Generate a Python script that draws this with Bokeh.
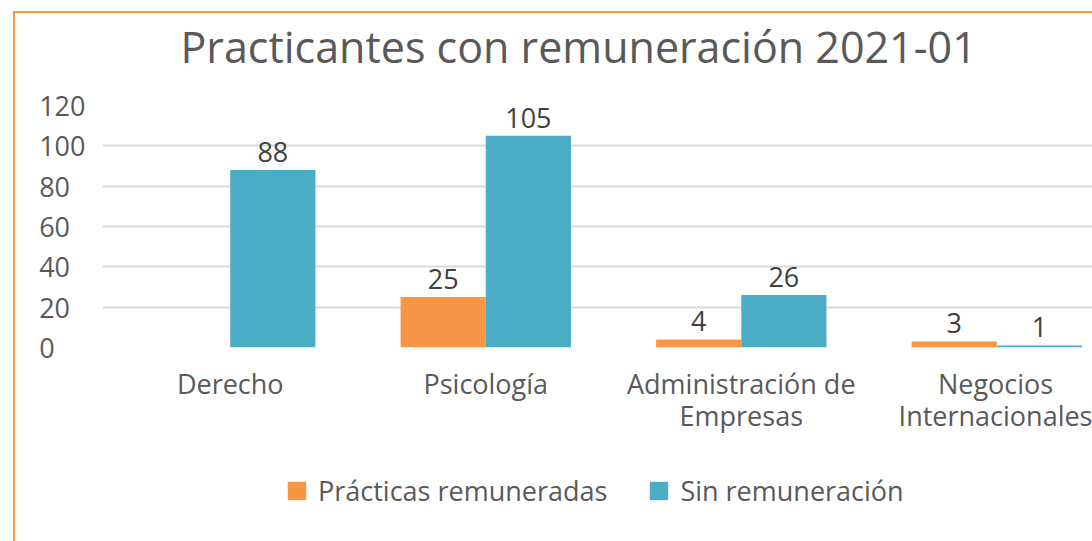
import numpy as np
from bokeh.plotting import figure
from bokeh.layouts import column
from bokeh.models import (ColumnDataSource, FixedTicker, Legend, LegendItem,
                          Range1d, LabelSet, Title)
from bokeh.core.properties import value
from bokeh.transform import dodge
from bokeh.embed import file_html
from bokeh.resources import INLINE

# ---- data ----
categories = ["Derecho", "Psicología", "Administración de\nEmpresas",
              "Negocios\nInternacionales"]
remuneradas = [0, 25, 4, 3]
sin_remuneracion = [88, 105, 26, 1]
y_ticks = [0, 20, 40, 60, 80, 100, 120]
series_names = ["Prácticas remuneradas", "Sin remuneración"]
title_text = "Practicantes con remuneración 2021-01"

ORANGE = "#F79646"
BLUE = "#4BACC6"
TXT = "#595959"
FONT = "Open Sans"
BORDER = "2px solid " + ORANGE

xc = np.arange(len(categories)) + 0.5
src = ColumnDataSource(dict(
    x=xc, rem=remuneradas, sin=sin_remuneracion,
    rem_lbl=[str(v) if v else "" for v in remuneradas],
    sin_lbl=[str(v) if v else "" for v in sin_remuneracion],
))

p = figure(frame_width=990, frame_height=240,
           x_range=Range1d(0, 990 / 255), y_range=Range1d(0, 120),
           output_backend="svg", toolbar_location=None,
           min_border_left=87, min_border_right=0,
           min_border_top=92, min_border_bottom=110)
p.margin = (11, 0, 0, 13)
p.styles = {"border-left": BORDER, "border-top": BORDER}
p.outline_line_color = None

# spacer between frame and title, then the title itself (further out)
p.add_layout(Title(text=" ", text_font_size="1px", standoff=27), "above")
p.add_layout(Title(text=title_text, text_font=FONT, text_font_size="43px",
                   text_font_style="normal", text_color=TXT, align="left",
                   vertical_align="bottom", offset=78, standoff=0), "above")

r1 = p.vbar(x=dodge("x", -1 / 6), top="rem", width=1 / 3, source=src,
            fill_color=ORANGE, line_color=None)
r2 = p.vbar(x=dodge("x", 1 / 6), top="sin", width=1 / 3, source=src,
            fill_color=BLUE, line_color=None)

for fld, lbl, off in (("rem", "rem_lbl", -1 / 6), ("sin", "sin_lbl", 1 / 6)):
    p.add_layout(LabelSet(x=dodge("x", off), y=fld, text=lbl, source=src,
                          text_align="center", text_baseline="alphabetic",
                          y_offset=8, text_font=value(FONT),
                          text_font_size=value("27px"),
                          text_color="#404040"))

p.xgrid.visible = False
p.ygrid.grid_line_color = "#D9D9D9"
p.ygrid.grid_line_width = 2

p.yaxis.ticker = FixedTicker(ticks=y_ticks)
p.yaxis.major_label_overrides = {t: str(t) + "\u2007" * (3 - len(str(t))) for t in y_ticks}
p.yaxis.axis_line_color = None
p.yaxis.major_tick_line_color = None
p.yaxis.minor_tick_line_color = None
p.yaxis.major_label_standoff = 11
p.yaxis.major_label_text_font = FONT
p.yaxis.major_label_text_font_size = "27px"
p.yaxis.major_label_text_color = TXT

p.xaxis.ticker = FixedTicker(ticks=list(xc))
p.xaxis.major_label_overrides = {float(x): c for x, c in zip(xc, categories)}
p.xaxis.axis_line_color = None
p.xaxis.major_tick_line_color = None
p.xaxis.minor_tick_line_color = None
p.xaxis.major_label_standoff = 11
p.xaxis.major_label_text_font = FONT
p.xaxis.major_label_text_font_size = "27px"
p.xaxis.major_label_text_line_height = 0.87
p.xaxis.major_label_text_color = TXT

# ---- legend strip below the chart (swatches drawn off-range) ----
leg = figure(width=1077, height=86, x_range=Range1d(0, 1), y_range=Range1d(0, 1),
             x_axis_type=None, y_axis_type=None,
             output_backend="svg", toolbar_location=None,
             min_border=0)
leg.margin = (0, 0, 0, 13)
leg.styles = {"border-left": BORDER}
leg.outline_line_color = None
leg.xgrid.visible = False
leg.ygrid.visible = False
swatch = ColumnDataSource(dict(x=[-5.0], top=[0.0]))
g1 = leg.vbar(x="x", top="top", width=0.1, source=swatch, fill_color=ORANGE, line_color=None)
g2 = leg.vbar(x="x", top="top", width=0.1, source=swatch, fill_color=BLUE, line_color=None)
legend = Legend(items=[LegendItem(label=series_names[0], renderers=[g1]),
                       LegendItem(label=series_names[1], renderers=[g2])],
                orientation="horizontal", location=(183, 32),
                glyph_width=23, glyph_height=23, label_standoff=10,
                spacing=40, padding=0, margin=0,
                border_line_color=None, background_fill_alpha=0,
                label_text_font=FONT, label_text_font_size="27px",
                label_text_color=TXT)
leg.add_layout(legend, "center")

layout = column(p, leg, spacing=0)
open("out.html", "w").write(file_html(layout, INLINE))
